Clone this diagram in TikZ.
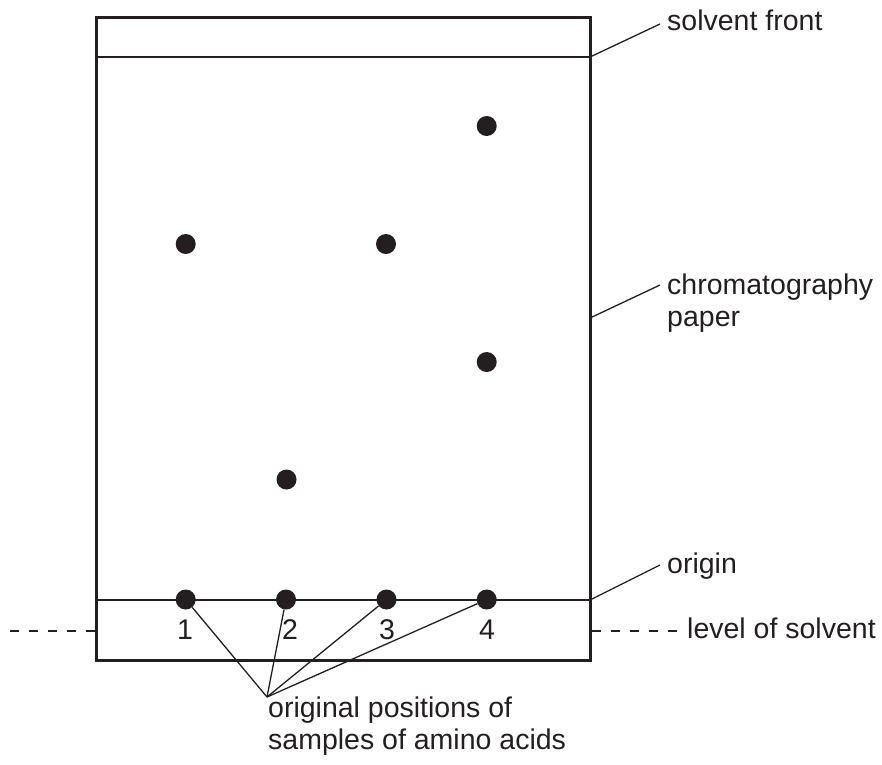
\documentclass[tikz,border=0pt]{standalone}
\usepackage{fontspec}
\setmainfont{Liberation Sans}
\definecolor{ink}{HTML}{231F20}
\begin{document}
\begin{tikzpicture}[x=1pt,y=-1pt,
  paperedge/.style={draw=ink,line width=3pt},
  leader/.style={draw=ink,line width=1.3pt},
  solventdash/.style={draw=ink,line width=1.3pt,dash pattern=on 9pt off 10pt},
  spot/.style={circle,fill=ink,inner sep=0pt,minimum size=20pt},
  lbl/.style={anchor=base west,inner sep=0pt,text=ink,font=\fontsize{28.5}{32}\selectfont},
  num/.style={anchor=base,inner sep=0pt,text=ink,font=\fontsize{28.5}{32}\selectfont}]
\useasboundingbox (0,0) rectangle (882,764);
% paper
\draw[paperedge] (96,17) rectangle (590,660);
\coordinate (fl) at (96,57);  \coordinate (fr) at (590,57);
\coordinate (ol) at (96,600); \coordinate (or) at (590,600);
\coordinate (pr) at (590,318);
\draw[leader] (fl) -- (fr);
\draw[leader] (ol) -- (or);
% spots
\node[spot] (a1) at (185.7,244) {};
\node[spot] (c1) at (386,244) {};
\node[spot] (d1) at (486.7,126) {};
\node[spot] (d2) at (486.7,362) {};
\node[spot] (b1) at (286.5,479.5) {};
\node[spot] (o1) at (185.7,599.5) {};
\node[spot] (o2) at (286,599.5) {};
\node[spot] (o3) at (386.5,599.5) {};
\node[spot] (o4) at (486.7,599.5) {};
% numbers
\node[num] (n1) at (185,639) {1};
\node[num] (n2) at (290,639) {2};
\node[num] (n3) at (387,639) {3};
\node[num] (n4) at (487,639) {4};
% solvent level
\coordinate (sl0) at (10,631); \coordinate (sl1) at (96,631);
\coordinate (sr0) at (592,631); \coordinate (sr1) at (677,631);
\draw[solventdash] (sl0) -- (sl1);
\draw[solventdash] (sr0) -- (sr1);
% labels
\node[lbl] (tfront) at (667,30) {solvent front};
\node[lbl] (tchrom) at (667,294) {chromatography};
\node[lbl] (tpaper) at (667,326) {paper};
\node[lbl] (torig) at (667,573) {origin};
\node[lbl] (tlevel) at (687,638) {level of solvent};
\node[lbl] (torig1) at (268,717) {original positions of};
\node[lbl] (torig2) at (268,749) {samples of amino acids};
% leaders
\coordinate (e1) at (660,24);
\coordinate (e2) at (660,285);
\coordinate (e3) at (660,565);
\draw[leader] (fr) -- (e1);
\draw[leader] (pr) -- (e2);
\draw[leader] (or) -- (e3);
\coordinate (apex) at (267,697);
\draw[leader] (apex) -- (o1);
\draw[leader] (apex) -- (o2);
\draw[leader] (apex) -- (o3);
\draw[leader] (apex) -- (o4);
\end{tikzpicture}
\end{document}
